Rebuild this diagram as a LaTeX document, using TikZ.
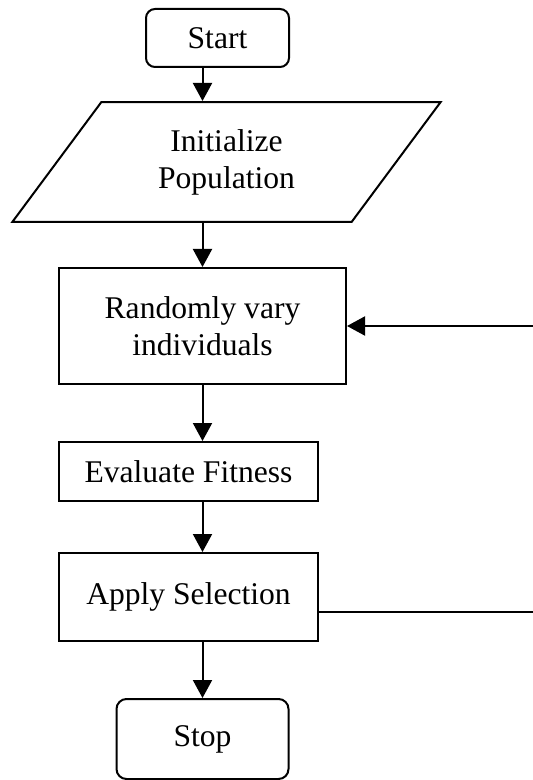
\documentclass[tikz,border=0pt]{standalone}
\usepackage{fontspec}
\setmainfont{Liberation Serif}
\usetikzlibrary{arrows.meta,shapes.geometric}

\begin{document}
\begin{tikzpicture}[
  every node/.style={draw, line width=1pt, inner sep=0pt, align=center,
    font=\fontsize{15.8}{18.5}\selectfont},
  terminal/.style={rounded corners=4.5pt},
  io/.style={trapezium, trapezium left angle=53.4, trapezium right angle=126.6},
  process/.style={rectangle},
  arr/.style={line width=1pt, -{Triangle[length=9pt,width=9.5pt]}}
]
\useasboundingbox (0,0) rectangle (266.5pt,-390pt);

\node[terminal, minimum width=71.5pt, minimum height=29pt] (start) at (108.75pt,-19pt) {Start};
\node[io, minimum width=214.5pt, minimum height=58pt] (init) at (113.25pt,-81pt) {Initialize\\Population};
\node[process, minimum width=143.5pt, minimum height=58pt] (rand) at (101.25pt,-163pt) {Randomly vary\\individuals};
\node[process, minimum width=129.5pt, minimum height=29.5pt] (eval) at (94.25pt,-235.75pt) {Evaluate Fitness};
\node[process, minimum width=129.5pt, minimum height=44pt] (apply) at (94.25pt,-298.5pt) {Apply Selection};
\node[terminal, rounded corners=5pt, minimum width=86pt, minimum height=40pt] (stop) at (101.25pt,-369.5pt) {Stop};

% loop ends at the right border
\coordinate (loopin) at (266.5pt,-163pt);
\coordinate (loopout) at (266.5pt,-305.8pt);

\draw[arr] (start.south -| rand) -- (init.north -| rand);
\draw[arr] (init.south -| rand) -- (rand.north);
\draw[arr] (rand.south) -- (eval.north -| rand);
\draw[arr] (eval.south -| rand) -- (apply.north -| rand);
\draw[arr] (apply.south -| rand) -- (stop.north);
\draw[arr] (loopin) -- (rand.east);
\draw[line width=1pt] (loopout -| apply.east) -- (loopout);
\end{tikzpicture}
\end{document}
